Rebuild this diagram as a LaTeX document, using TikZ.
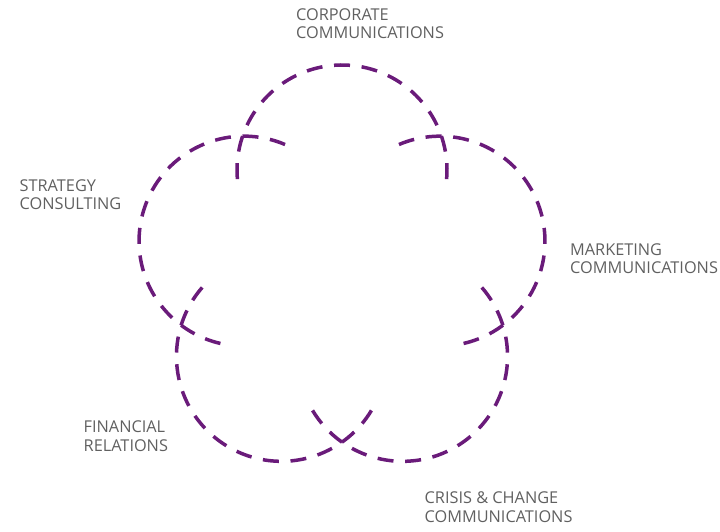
\documentclass[tikz,border=0pt]{standalone}
\usepackage{fontspec}
\setmainfont{Open Sans}
\usetikzlibrary{calc}
\definecolor{darkpurple}{RGB}{106,27,122}
\definecolor{captgray}{RGB}{96,96,96}
\tikzset{
    petal/.style={draw=darkpurple, line width=3.5pt, dash pattern=on 16pt off 11.68pt},
    capt/.style={anchor=north west, inner sep=0pt, align=left, text=captgray,
        font=\fontsize{16.3}{18.6}\selectfont}
}

\begin{document}
\begin{tikzpicture}[x=1pt,y=1pt]
    \useasboundingbox (0,0) rectangle (720,532);
    \def \R {103}
    \def \r {105}
    \coordinate (o) at (342,259);
    % five dashed petals round the pentagon
    \foreach \s in {0,...,4}{
    \pgfmathsetmacro{\t}{90+72*\s}
    \coordinate (c\s) at ($(o)+(\t:\R)$);
    \draw[petal] ($(c\s)+(\t-95:\r)$) arc[start angle=\t-95, end angle=\t+95, radius=\r pt];}
    \node[capt] (corp) at (296,523.9) {CORPORATE\\COMMUNICATIONS};
    \node[capt] (strat) at (19.5,352.9) {STRATEGY\\CONSULTING};
    \node[capt] (market) at (570,288.9) {MARKETING\\COMMUNICATIONS};
    \node[capt] (fin) at (83.5,111.5) {FINANCIAL\\RELATIONS};
    \node[capt] (crisis) at (424.5,40.2) {CRISIS \& CHANGE\\COMMUNICATIONS};
\end{tikzpicture}
\end{document}
